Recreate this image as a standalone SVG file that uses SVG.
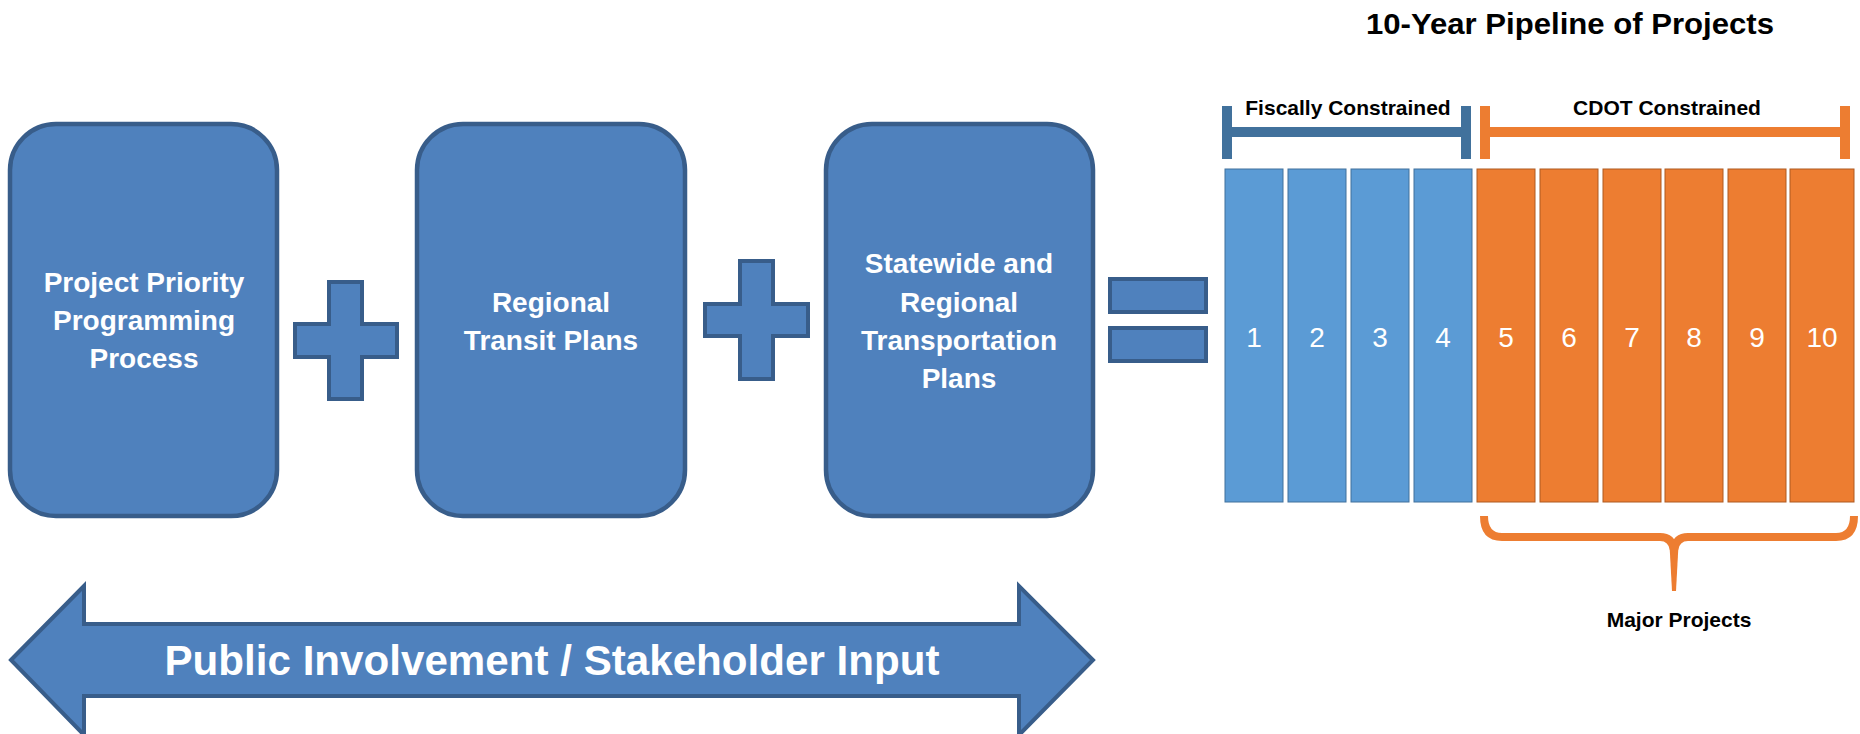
<svg xmlns="http://www.w3.org/2000/svg" width="1860" height="734" viewBox="0 0 1860 734">
<style>
  text { font-family: "Liberation Sans", Arial, sans-serif; }
  .box { fill: #4f81bd; stroke: #385d8a; stroke-width: 4.5; }
  .op { fill: #4f81bd; stroke: #385d8a; stroke-width: 4; }
  .boxtxt { fill: #ffffff; font-size: 28px; font-weight: bold; text-anchor: middle; }
  .bblue { fill: #5b9bd5; stroke: #41719c; stroke-width: 1; }
  .borange { fill: #ed7d31; stroke: #ae5a21; stroke-width: 1; }
  .num { fill: #ffffff; font-size: 28px; text-anchor: middle; }
  .lbl { fill: #000000; font-size: 21px; font-weight: bold; text-anchor: middle; }
  .brkb { stroke: #41719c; stroke-width: 10; fill: none; }
  .brko { stroke: #ed7d31; stroke-width: 10; fill: none; }
</style>

<g id="title">
  <text x="1570" y="34" font-size="30" font-weight="bold" text-anchor="middle" textLength="408" lengthAdjust="spacingAndGlyphs">10-Year Pipeline of Projects</text>
</g>

<g id="node-ppp">
  <rect class="box" x="10" y="124" width="267" height="392" rx="46" ry="46"/>
  <text class="boxtxt" x="144" y="292">Project Priority</text>
  <text class="boxtxt" x="144" y="330">Programming</text>
  <text class="boxtxt" x="144" y="368">Process</text>
</g>

<g id="node-rtp">
  <rect class="box" x="417" y="124" width="268" height="392" rx="46" ry="46"/>
  <text class="boxtxt" x="551" y="312">Regional</text>
  <text class="boxtxt" x="551" y="350">Transit Plans</text>
</g>

<g id="node-srtp">
  <rect class="box" x="826" y="124" width="267" height="392" rx="46" ry="46"/>
  <text class="boxtxt" x="959" y="273">Statewide and</text>
  <text class="boxtxt" x="959" y="312">Regional</text>
  <text class="boxtxt" x="959" y="350">Transportation</text>
  <text class="boxtxt" x="959" y="388">Plans</text>
</g>

<g id="connectors">
  <path id="plus1" class="op" d="M329,282 H362 V324 H397 V357 H362 V399 H329 V357 H295 V324 H329 Z"/>
  <path id="plus2" class="op" d="M740,261 H773 V304 H808 V336 H773 V379 H740 V336 H705 V304 H740 Z"/>
  <g id="equals">
    <rect class="op" x="1110" y="279" width="96" height="33"/>
    <rect class="op" x="1110" y="328" width="96" height="33"/>
  </g>
</g>

<g id="node-public">
  <path class="op" d="M11,660 L84,586 V624 H1019 V586 L1093,660 L1019,735 V696 H84 V735 Z"/>
  <text x="552" y="675" fill="#ffffff" font-size="42" font-weight="bold" text-anchor="middle" textLength="775" lengthAdjust="spacingAndGlyphs">Public Involvement / Stakeholder Input</text>
</g>

<g id="node-fiscal">
  <path class="brkb" d="M1227,106 V159 M1227,132 H1466 M1466,106 V159"/>
  <text class="lbl" x="1348" y="115">Fiscally Constrained</text>
</g>

<g id="node-cdot">
  <path class="brko" d="M1485,106 V159 M1485,132 H1845 M1845,106 V159"/>
  <text class="lbl" x="1667" y="115">CDOT Constrained</text>
</g>

<g id="node-bars">
  <rect class="bblue" x="1225" y="169" width="58" height="333"/>
  <rect class="bblue" x="1288" y="169" width="58" height="333"/>
  <rect class="bblue" x="1351" y="169" width="58" height="333"/>
  <rect class="bblue" x="1414" y="169" width="58" height="333"/>
  <rect class="borange" x="1477" y="169" width="58" height="333"/>
  <rect class="borange" x="1540" y="169" width="58" height="333"/>
  <rect class="borange" x="1603" y="169" width="58" height="333"/>
  <rect class="borange" x="1665" y="169" width="58" height="333"/>
  <rect class="borange" x="1728" y="169" width="58" height="333"/>
  <rect class="borange" x="1790" y="169" width="64" height="333"/>
  <text class="num" x="1254" y="347">1</text>
  <text class="num" x="1317" y="347">2</text>
  <text class="num" x="1380" y="347">3</text>
  <text class="num" x="1443" y="347">4</text>
  <text class="num" x="1506" y="347">5</text>
  <text class="num" x="1569" y="347">6</text>
  <text class="num" x="1632" y="347">7</text>
  <text class="num" x="1694" y="347">8</text>
  <text class="num" x="1757" y="347">9</text>
  <text class="num" x="1822" y="347">10</text>
</g>

<g id="node-major">
  <path d="M1484,516 Q1484,537 1502,537 H1660 Q1672,537 1674,550 Q1676,537 1688,537 H1836 Q1854,537 1854,516" fill="none" stroke="#ed7d31" stroke-width="8"/>
  <path d="M1669.5,545 L1678.5,545 L1676,591 L1672,591 Z" fill="#ed7d31"/>
  <text class="lbl" x="1679" y="627">Major Projects</text>
</g>
</svg>
